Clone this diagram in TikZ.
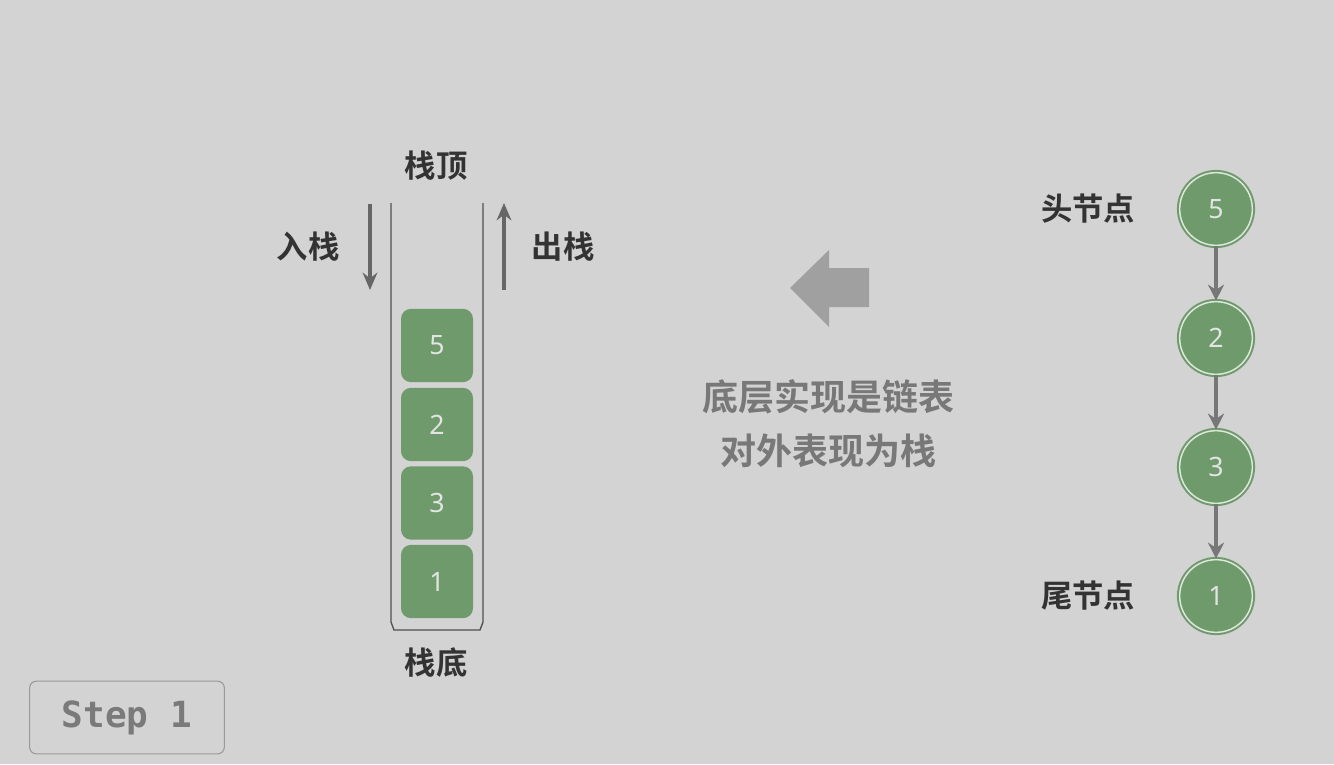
\documentclass[tikz,border=0pt]{standalone}
\usepackage{fontspec}
\setmainfont{Noto Sans}
\newfontfamily\cjk{Noto Sans CJK SC}[BoldFont={* Bold}]
\newfontfamily\monob{DejaVu Sans Mono}[BoldFont={* Bold}]
\usetikzlibrary{arrows.meta}
\definecolor{bg}{HTML}{D3D3D3}
\definecolor{blockg}{HTML}{6E9A6C}
\definecolor{ringw}{HTML}{DDE8DB}
\definecolor{numc}{HTML}{E4E4E4}
\definecolor{labc}{HTML}{333333}
\definecolor{arrc}{HTML}{666666}
\definecolor{linkc}{HTML}{777777}
\definecolor{bigarr}{HTML}{A0A0A0}
\definecolor{midtxt}{HTML}{787878}
\definecolor{stepc}{HTML}{7A7A7A}
\definecolor{stepb}{HTML}{9A9A9A}
\definecolor{wall}{HTML}{505050}
\tikzset{
  block/.style={rectangle, rounded corners=7.5pt, fill=blockg, minimum width=54pt, minimum height=55pt, inner sep=0pt, text=numc, font=\fontsize{20}{24}\selectfont},
  lnode/.style={circle, fill=blockg, draw=blockg, line width=1.5pt, double=ringw, double distance=1.1pt, minimum size=54.5pt, inner sep=0pt, text=numc, font=\fontsize{20}{24}\selectfont},
  lab/.style={text=labc, font=\cjk\bfseries\fontsize{23.5}{28}\selectfont, inner sep=0pt},
  mid/.style={text=midtxt, font=\cjk\bfseries\fontsize{27}{31}\selectfont, inner sep=0pt},
  link/.style={draw=linkc, line width=2.6pt, -{Stealth[length=12pt,width=12pt]}},
  pushpop/.style={draw=arrc, line width=2.6pt, -{Stealth[length=13pt,width=11pt]}},
}
\begin{document}
\begin{tikzpicture}[x=0.75pt,y=-0.75pt]
\fill[bg] (0,0) rectangle (1334,764);
\useasboundingbox (0,0) rectangle (1334,764);

% stack container
\draw[wall, line width=1pt] (391,203) -- (391,622) -- (394,630) -- (480,630) -- (483,622) -- (483,203);

% blocks
\node[block] (b5) at (437,345.5) {5};
\node[block] (b2) at (437,424.5) {2};
\node[block] (b3) at (437,503) {3};
\node[block] (b1) at (437,581.5) {1};

% labels
\node[lab] (top) at (436,166) {栈顶};
\node[lab] (bot) at (436,663) {栈底};
\node[lab] (push) at (308,247) {入栈};
\node[lab] (pop) at (563,247) {出栈};

% push / pop arrows
\coordinate (pusha) at (370,204);
\coordinate (pushb) at (370,290);
\coordinate (popa) at (504,290);
\coordinate (popb) at (504,203);
\draw[pushpop] (pusha) -- (pushb);
\draw[pushpop] (popa) -- (popb);

% big arrow
\fill[bigarr] (790,288) -- (829,250) -- (829,268) -- (869,268) -- (869,307) -- (829,307) -- (829,327) -- cycle;

% middle text
\node[mid] (t1) at (828,397) {底层实现是链表};
\node[mid] (t2) at (828,451) {对外表现为栈};

% linked list
\node[lnode] (c5) at (1216,209) {5};
\node[lnode] (c2) at (1216,338) {2};
\node[lnode] (c3) at (1216,467) {3};
\node[lnode] (c1) at (1216,596) {1};
\draw[link] (c5) -- (c2);
\draw[link] (c2) -- (c3);
\draw[link] (c3) -- (c1);
\node[lab] (head) at (1088,209) {头节点};
\node[lab] (tail) at (1088,596) {尾节点};

% step box
\node[draw=stepb, line width=0.8pt, rounded corners=5pt, minimum width=146pt, minimum height=54.5pt, inner sep=0pt, text=stepc, font=\monob\bfseries\fontsize{27}{32}\selectfont] (step) at (127,717.5) {Step 1};
\end{tikzpicture}
\end{document}
